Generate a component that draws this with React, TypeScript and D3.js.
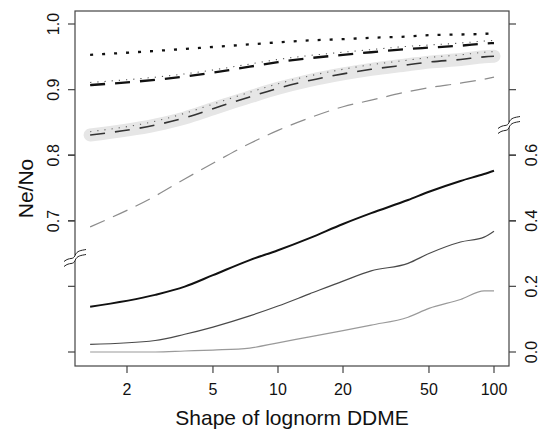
import React from "react";
import * as d3 from "d3";

// Shape parameter of the lognormal DDME (x positions of the simulated points)
const shapes = [1.35, 2.7, 3.7, 5, 7.4, 10, 14, 20, 27, 40, 50, 70, 90, 100];

// Upper panel series (Ne/No, left axis)
const dottedTop = [0.953, 0.959, 0.962, 0.965, 0.969, 0.972, 0.975, 0.977, 0.979, 0.981, 0.983, 0.984, 0.985, 0.986];
const longDashTop = [0.907, 0.915, 0.92, 0.926, 0.935, 0.942, 0.948, 0.953, 0.957, 0.962, 0.964, 0.967, 0.97, 0.971];
const longDashTopDots = [0.911, 0.919, 0.924, 0.93, 0.939, 0.946, 0.952, 0.957, 0.961, 0.966, 0.968, 0.971, 0.974, 0.975];
const bandMid = [0.831, 0.846, 0.857, 0.871, 0.889, 0.902, 0.914, 0.924, 0.931, 0.938, 0.942, 0.946, 0.95, 0.951];
const bandMidDots = [0.836, 0.852, 0.864, 0.878, 0.896, 0.909, 0.921, 0.931, 0.938, 0.945, 0.949, 0.953, 0.957, 0.958];
const grayDashed = [0.691, 0.738, 0.764, 0.788, 0.818, 0.838, 0.857, 0.874, 0.884, 0.897, 0.903, 0.91, 0.916, 0.919];

// Lower panel series (right axis)
const solidThick = [0.138, 0.174, 0.199, 0.234, 0.28, 0.31, 0.347, 0.39, 0.423, 0.463, 0.488, 0.521, 0.542, 0.552];
const solidDark = [0.023, 0.035, 0.054, 0.076, 0.11, 0.14, 0.177, 0.216, 0.247, 0.27, 0.3, 0.335, 0.35, 0.368];
const solidLight = [0.0, 0.0, 0.003, 0.006, 0.012, 0.028, 0.046, 0.065, 0.082, 0.106, 0.133, 0.16, 0.186, 0.186];

// Axis ticks
const xTicks = [2, 5, 10, 20, 50, 100];
const upperTicks = [0.7, 0.8, 0.9, 1.0];
const lowerTicks = [0.0, 0.2, 0.4, 0.6];

const FONT = "'Liberation Sans', Arial, Helvetica, sans-serif";

export default function App() {
  const width = 540;
  const height = 429;
  const box = { left: 75, right: 509, top: 11, bottom: 366 };

  const x = d3.scaleLog().domain([2, 100]).range([127, 494]);
  const yUp = d3.scaleLinear().domain([0.7, 1.0]).range([221, 24]);
  const yLo = d3.scaleLinear().domain([0, 0.6]).range([352, 155]);

  const lineUp = (vals: number[]) =>
    d3.line<number>().curve(d3.curveMonotoneX).x((_, i) => x(shapes[i])).y((v) => yUp(v))(vals) || "";
  const lineLo = (vals: number[]) =>
    d3.line<number>().curve(d3.curveMonotoneX).x((_, i) => x(shapes[i])).y((v) => yLo(v))(vals) || "";

  const axisColor = "#444";

  // tick positions shared by both vertical axes
  const yTickPos = [...upperTicks.map((t) => yUp(t)), ...lowerTicks.map((t) => yLo(t))];

  const breakMark = (cx: number, cy: number, key: string) => {
    const wave = (d: number) =>
      `M${cx - 11},${cy + 6 + d} C${cx - 5},${cy + 1 + d} ${cx - 2},${cy + 5 + d} ${cx},${cy + d} S${cx + 6},${cy - 5 + d} ${cx + 11},${cy - 6 + d}`;
    return (
      <g key={key}>
        <path
          d={`M${cx - 11},${cy + 8.5} C${cx - 5},${cy + 3.5} ${cx - 2},${cy + 7.5} ${cx},${cy + 2.5} S${cx + 6},${cy - 2.5} ${cx + 11},${cy - 3.5} L${cx + 11},${cy - 8.5} C${cx + 5},${cy - 7.5} ${cx + 2},${cy - 2.5} ${cx},${cy - 2.5} S${cx - 5},${cy - 1.5} ${cx - 11},${cy + 3.5} Z`}
          fill="white"
          stroke="none"
        />
        <path d={wave(-2.5)} fill="none" stroke="#222" strokeWidth={1} />
        <path d={wave(2.5)} fill="none" stroke="#222" strokeWidth={1} />
      </g>
    );
  };

  return (
    <svg
      width={width}
      height={height}
      style={{ position: "absolute", left: 0, top: 0, background: "white" }}
      fontFamily={FONT}
    >
      <rect x={0} y={0} width={width} height={height} fill="white" />

      {/* upper group */}
      <path d={lineUp(bandMid)} fill="none" stroke="#e6e6e6" strokeWidth={13} strokeLinecap="round" strokeLinejoin="round" />
      <path d={lineUp(grayDashed)} fill="none" stroke="#8c8c8c" strokeWidth={1.2} strokeDasharray="16 9" />
      <path d={lineUp(bandMidDots)} fill="none" stroke="#666" strokeWidth={1.1} strokeDasharray="1.2 6" />
      <path d={lineUp(bandMid)} fill="none" stroke="#333" strokeWidth={1.6} strokeDasharray="15 10" />
      <path d={lineUp(longDashTopDots)} fill="none" stroke="#555" strokeWidth={1.1} strokeDasharray="1.2 6" />
      <path d={lineUp(longDashTop)} fill="none" stroke="#111" strokeWidth={2.3} strokeDasharray="15 10" />
      <path d={lineUp(dottedTop)} fill="none" stroke="#111" strokeWidth={2.3} strokeDasharray="3 9" />

      {/* lower group */}
      <path d={lineLo(solidLight)} fill="none" stroke="#9a9a9a" strokeWidth={1.2} />
      <path d={lineLo(solidDark)} fill="none" stroke="#4a4a4a" strokeWidth={1.2} />
      <path d={lineLo(solidThick)} fill="none" stroke="#111" strokeWidth={2} />

      {/* frame */}
      <rect
        x={box.left}
        y={box.top}
        width={box.right - box.left}
        height={box.bottom - box.top}
        fill="none"
        stroke={axisColor}
        strokeWidth={1.2}
      />

      {/* bottom axis */}
      {xTicks.map((t) => (
        <g key={`xt${t}`}>
          <line x1={x(t)} x2={x(t)} y1={box.bottom} y2={box.bottom + 7} stroke={axisColor} strokeWidth={1.2} />
          <text x={x(t)} y={395} fontSize={16} textAnchor="middle" fill="#111">
            {t}
          </text>
        </g>
      ))}

      {/* left and right ticks */}
      {yTickPos.map((p, i) => (
        <g key={`yt${i}`}>
          <line x1={box.left - 7} x2={box.left} y1={p} y2={p} stroke={axisColor} strokeWidth={1.2} />
          <line x1={box.right} x2={box.right + 7} y1={p} y2={p} stroke={axisColor} strokeWidth={1.2} />
        </g>
      ))}
      {upperTicks.map((t) => (
        <text
          key={`ul${t}`}
          x={59}
          y={yUp(t)}
          fontSize={16}
          textAnchor="middle"
          fill="#111"
          transform={`rotate(-90, 59, ${yUp(t)})`}
        >
          {t.toFixed(1)}
        </text>
      ))}
      {lowerTicks.map((t) => (
        <text
          key={`ll${t}`}
          x={537}
          y={yLo(t)}
          fontSize={16}
          textAnchor="middle"
          fill="#111"
          transform={`rotate(-90, 537, ${yLo(t)})`}
        >
          {t.toFixed(1)}
        </text>
      ))}

      {/* axis breaks */}
      {breakMark(box.left, 258, "bl")}
      {breakMark(box.right, 125, "br")}

      {/* titles */}
      <text x={(box.left + box.right) / 2} y={425} fontSize={21} textAnchor="middle" fill="#111">
        Shape of lognorm DDME
      </text>
      <text
        x={33}
        y={(box.top + box.bottom) / 2}
        fontSize={21}
        textAnchor="middle"
        fill="#111"
        transform={`rotate(-90, 33, ${(box.top + box.bottom) / 2})`}
      >
        Ne/No
      </text>
    </svg>
  );
}
